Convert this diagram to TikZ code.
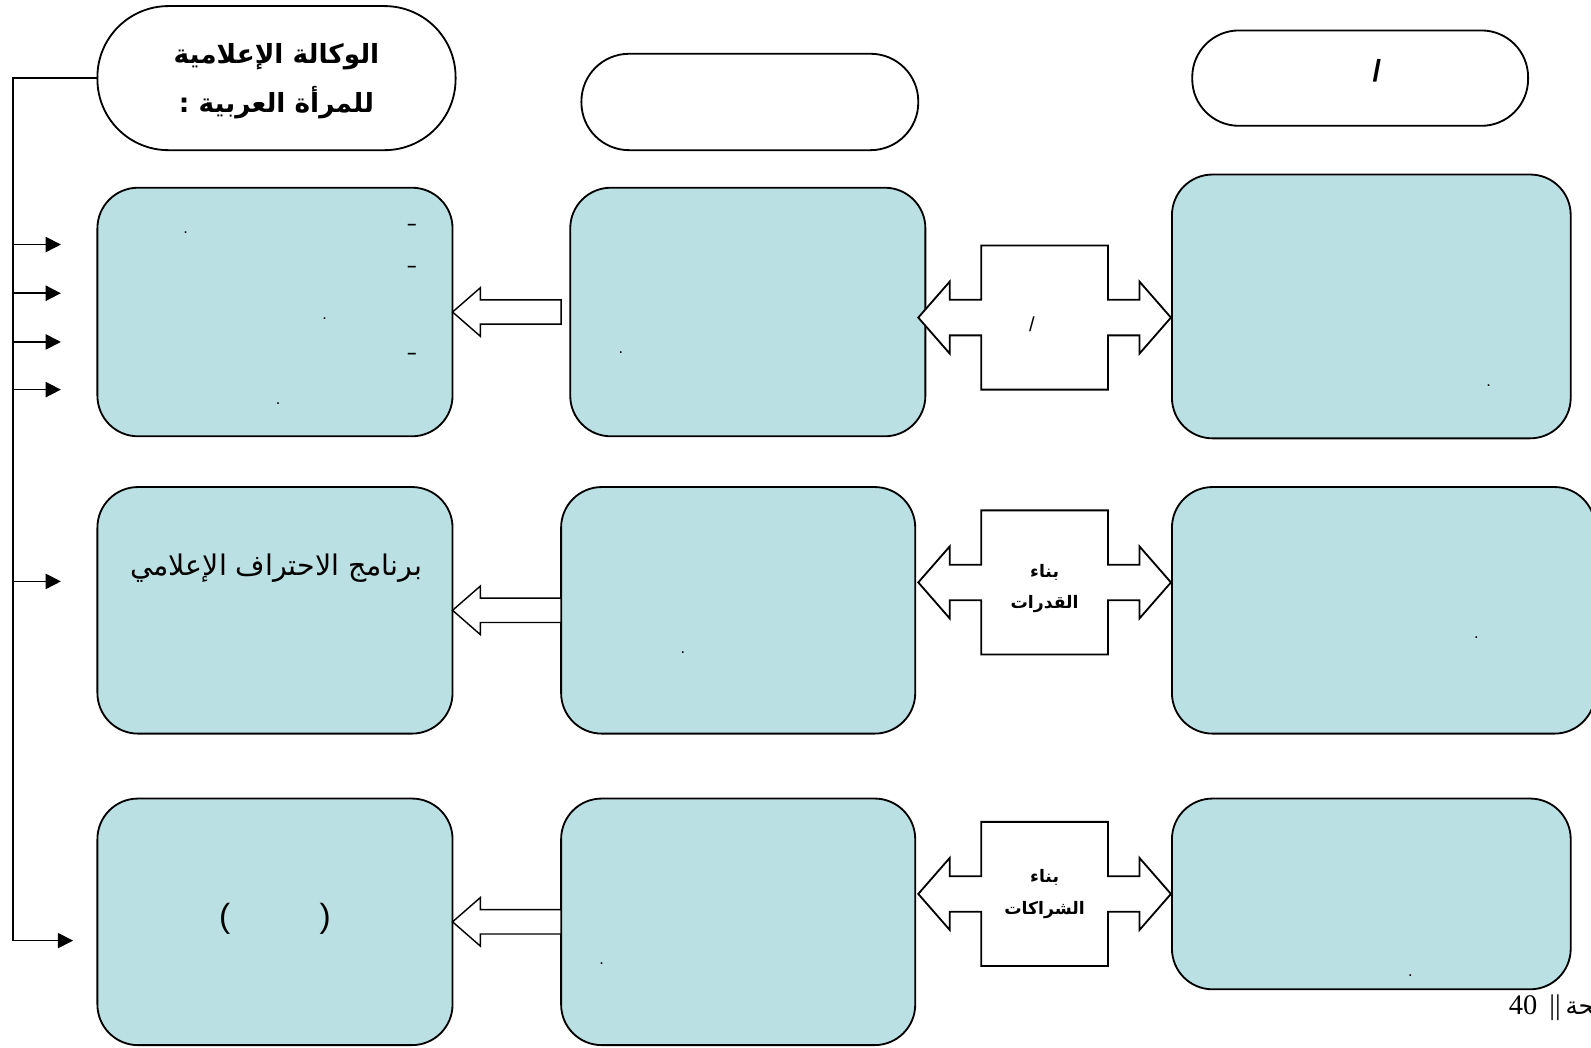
\documentclass[tikz,border=0pt]{standalone}
\usepackage{fontspec}
\setmainfont{Liberation Sans}
\newfontfamily\arabicfont[Script=Arabic]{DejaVu Sans}
\newfontfamily\serifface{Liberation Serif}
\TeXXeTstate=1
\usetikzlibrary{arrows.meta,calc}
\definecolor{boxblue}{RGB}{187,224,227}

\newcommand{\blkarrow}[3]{%
  \draw[blockarr] let \p1=(#1.east), \p2=(#2.west) in
    (\x1,\y1) -- (\x1+27.5pt,\y1+24pt) -- (\x1+27.5pt,\y1+12pt) --
    (\x2-#3,\y1+12pt) -- (\x2-#3,\y1-12pt) -- (\x1+27.5pt,\y1-12pt) --
    (\x1+27.5pt,\y1-24pt) -- cycle;}
\newcommand{\dblarrow}[1]{%
  \draw[dblarr] let \p3=(#1) in
    (\x3-124.5pt,\y3) -- (\x3-93.5pt,\y3+35.5pt) -- (\x3-93.5pt,\y3+17.5pt) --
    (\x3-62.5pt,\y3+17.5pt) -- (\x3-62.5pt,\y3+71pt) -- (\x3+62.5pt,\y3+71pt) --
    (\x3+62.5pt,\y3+17.5pt) -- (\x3+93.5pt,\y3+17.5pt) -- (\x3+93.5pt,\y3+35.5pt) --
    (\x3+124.5pt,\y3) --
    (\x3+93.5pt,\y3-35.5pt) -- (\x3+93.5pt,\y3-17.5pt) -- (\x3+62.5pt,\y3-17.5pt) --
    (\x3+62.5pt,\y3-71pt) -- (\x3-62.5pt,\y3-71pt) -- (\x3-62.5pt,\y3-17.5pt) --
    (\x3-93.5pt,\y3-17.5pt) -- (\x3-93.5pt,\y3-35.5pt) -- cycle;}

\begin{document}
\begin{tikzpicture}[x=1pt,y=1pt,
  every node/.style={inner sep=0pt, outer sep=0pt},
  bluebox/.style={draw, line width=1.8pt, fill=boxblue, rounded corners=40pt},
  pill/.style={draw, line width=1.8pt, fill=white},
  blockarr/.style={draw, line width=1.4pt, fill=white, line join=miter},
  dblarr/.style={draw, line width=1.8pt, fill=white, line join=miter},
  feed/.style={line width=1.6pt, -{Triangle[length=15pt,width=15pt]}},
  dotmark/.style={font=\fontsize{16}{16}\selectfont},
  dashmark/.style={font=\bfseries\fontsize{16}{16}\selectfont},
  arlabel/.style={align=center, font=\arabicfont\bfseries\fontsize{17}{31}\selectfont},
]
\path[use as bounding box] (0,0) rectangle (1568,-1032);
\begin{scope}
\clip (0,0) rectangle (1568,-1032);

% top pills
\node[pill, rounded corners=70pt, minimum width=353pt, minimum height=142pt] (title) at (272.5,-77) {};
\node[align=center, font=\arabicfont\bfseries\fontsize{26}{48}\selectfont]
  (titletext) at (272.5,-80) {\beginR الوكالة الإعلامية\endR\\\beginR للمرأة العربية :\endR};
\node[pill, rounded corners=47pt, minimum width=332pt, minimum height=95pt] (midpill) at (739,-100.5) {};
\node[pill, rounded corners=46pt, minimum width=331pt, minimum height=94pt] (rightpill) at (1340.5,-77) {};
\node[font=\bfseries\fontsize{30}{30}\selectfont] (slashA) at (1357,-70) {/};

% row 1
\node[bluebox, minimum width=350pt, minimum height=245pt] (L1) at (271,-307.5) {};
\node[bluebox, minimum width=350pt, minimum height=245pt] (M1) at (737,-307.5) {};
\node[bluebox, minimum width=393pt, minimum height=260pt] (R1) at (1351.5,-302) {};
% row 2
\node[bluebox, minimum width=350pt, minimum height=243pt] (L2) at (271,-601.5) {};
\node[bluebox, minimum width=349pt, minimum height=243pt] (M2) at (727.5,-601.5) {};
\node[bluebox, minimum width=417pt, minimum height=243pt] (R2) at (1363.5,-601.5) {};
% row 3
\node[bluebox, minimum width=350pt, minimum height=243pt] (L3) at (271,-908.5) {};
\node[bluebox, minimum width=349pt, minimum height=243pt] (M3) at (727.5,-908.5) {};
\node[bluebox, minimum width=393pt, minimum height=188pt] (R3) at (1351.5,-881) {};

% block arrows middle -> left
\blkarrow{L1}{M1}{9pt}
\blkarrow{L2}{M2}{0pt}
\blkarrow{L3}{M3}{0pt}

% double arrows
\coordinate (D1) at (1029.5,-313);
\coordinate (D2) at (1029.5,-574);
\coordinate (D3) at (1029.5,-881);
\dblarrow{D1}
\dblarrow{D2}
\dblarrow{D3}
\node[font=\fontsize{20}{20}\selectfont] (D1t) at (1017,-320) {/};
\node[arlabel] (D2t) at (1029.5,-580) {\beginR بناء\endR\\\beginR القدرات\endR};
\node[arlabel] (D3t) at (1029.5,-881) {\beginR بناء\endR\\\beginR الشراكات\endR};

% feed lines on the left
\coordinate (busBot) at (13,-927);
\coordinate (tipBot) at (72,-927);
\draw[line width=1.6pt] (title.west) -| (busBot);
\draw[feed] (busBot) -- (tipBot);
\foreach \yy/\nm in {241/f1,289/f2,337/f3,384/f4,573/f5}{
  \coordinate (\nm s) at (13,-\yy);
  \coordinate (\nm e) at (60,-\yy);
  \draw[feed] (\nm s) -- (\nm e);
}

% texts in boxes
\node[dashmark] (d1) at (406,-224) {–};
\node[dashmark] (d2) at (406,-265) {–};
\node[dashmark] (d3) at (406,-351) {–};
\node[dotmark] (p1) at (183,-229) {.};
\node[dotmark] (p2) at (320,-314) {.};
\node[dotmark] (p3) at (274,-398) {.};
\node[dotmark] (p4) at (612,-348) {.};
\node[dotmark] (p5) at (1467,-380) {.};
\node[dotmark] (p6) at (673,-643) {.};
\node[dotmark] (p7) at (1455,-628) {.};
\node[dotmark] (p8) at (593,-950) {.};
\node[dotmark] (p9) at (1390,-962) {.};
\node[font=\arabicfont\fontsize{28}{32}\selectfont] (L2t) at (272,-560)
  {\beginR برنامج الاحتراف الإعلامي\endR};
\node[font=\fontsize{33}{33}\selectfont] (L3t) at (271,-906) {(\hspace{88pt})};

% footer
\node[anchor=base west, font=\serifface\fontsize{28}{28}\selectfont] (pgnum) at (1487,-1000) {40\hspace{12pt}||};
\node[anchor=base west, font=\arabicfont\fontsize{24}{24}\selectfont] (pgword) at (1543,-1000) {\beginR صفحة\endR};
\end{scope}
\end{tikzpicture}
\end{document}
